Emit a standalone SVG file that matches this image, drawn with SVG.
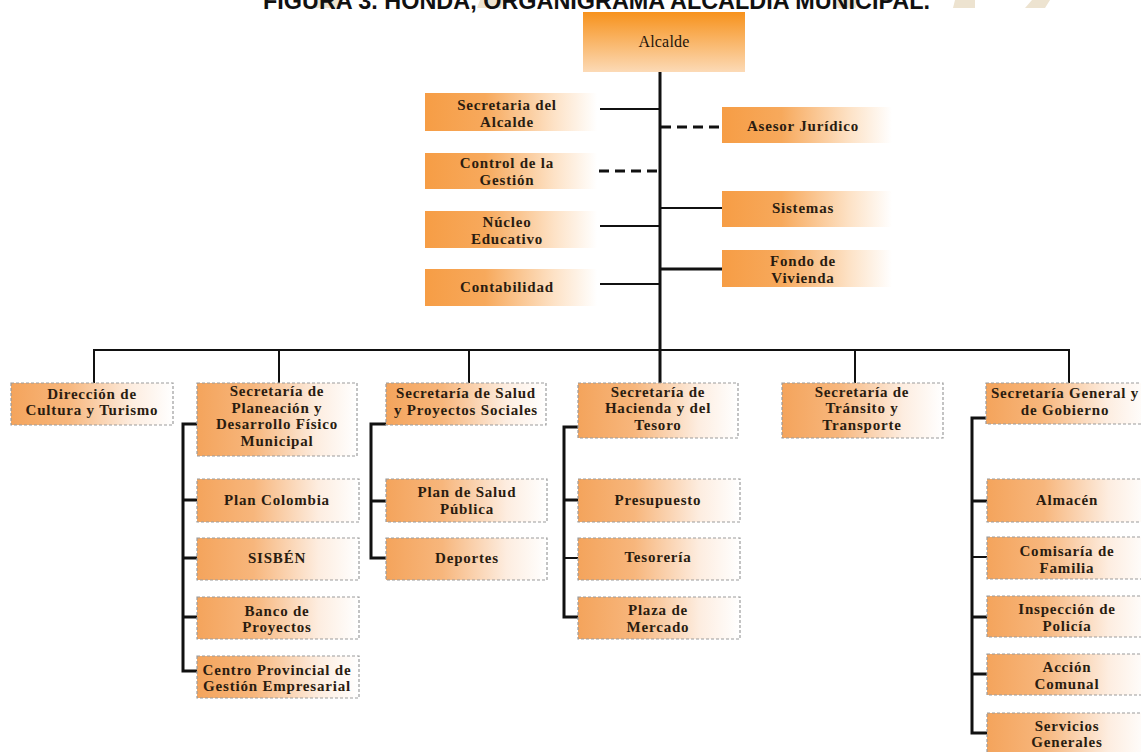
<svg xmlns="http://www.w3.org/2000/svg" width="1141" height="752" viewBox="0 0 1141 752">
<defs>
<style>
.t{font-family:"Liberation Serif","Times New Roman",serif;font-weight:bold;font-size:15px;letter-spacing:0.8px;fill:#2a1c10;text-anchor:middle}
.ttl{font-family:"Liberation Sans",Arial,sans-serif;font-weight:bold;font-size:23px;fill:#111}
.bx{stroke:#9c9c9c;stroke-width:1.2;stroke-dasharray:3 2}
.c{stroke:#111;fill:none;stroke-width:2}
.k{stroke:#111;fill:none;stroke-width:3}
.d{stroke:#111;fill:none;stroke-width:2.8;stroke-dasharray:10 6}
.wm{fill:#ede3d0}
</style>
<linearGradient id="gl" x1="0" y1="0" x2="1" y2="0">
<stop offset="0" stop-color="#f4a45c"/>
<stop offset="0.35" stop-color="#f7b67c"/>
<stop offset="0.75" stop-color="#fdede0"/>
<stop offset="1" stop-color="#ffffff"/>
</linearGradient>
<linearGradient id="gt" x1="0" y1="0" x2="1" y2="0">
<stop offset="0" stop-color="#f69d45"/>
<stop offset="0.35" stop-color="#f7a95c"/>
<stop offset="0.75" stop-color="#fde2c6"/>
<stop offset="1" stop-color="#ffffff"/>
</linearGradient>
<linearGradient id="ga" x1="0" y1="0" x2="0" y2="1">
<stop offset="0" stop-color="#f7921c"/>
<stop offset="1" stop-color="#fcdab6"/>
</linearGradient>
</defs>
<rect width="1141" height="752" fill="#ffffff"/>
<g id="watermark">
<polygon class="wm" points="318,0 343,0 340,8 315,8"/>
<polygon class="wm" points="480,0 503,0 501,8 477,8"/>
<polygon class="wm" points="837,0 857,0 856,8 835,8"/>
<polygon class="wm" points="955,0 975,0 975,8 953,8"/>
<polygon class="wm" points="1032,0 1050,0 1045,8 1025,8"/>
</g>
<text class="ttl" x="263" y="9" textLength="667" lengthAdjust="spacingAndGlyphs">FIGURA 3. HONDA, ORGANIGRAMA ALCALDÍA MUNICIPAL.</text>
<g id="connectors">
<line class="k" x1="660" y1="72" x2="660" y2="383"/>
<line class="c" x1="600" y1="109" x2="660" y2="109"/>
<line class="d" x1="661" y1="127" x2="722" y2="127"/>
<line class="d" x1="599" y1="171" x2="659" y2="171"/>
<line class="c" x1="660" y1="208" x2="722" y2="208"/>
<line class="c" x1="600" y1="226" x2="660" y2="226"/>
<line class="k" x1="660" y1="269" x2="722" y2="269"/>
<line class="c" x1="600" y1="284" x2="660" y2="284"/>
<polyline class="c" points="94,383 94,350 1069,350 1069,383"/>
<line class="c" x1="279" y1="350" x2="279" y2="383"/>
<line class="c" x1="469" y1="350" x2="469" y2="383"/>
<line class="c" x1="855" y1="350" x2="855" y2="383"/>
<polyline class="k" points="197,424 183,424 183,671 197,671"/>
<line class="k" x1="183" y1="500" x2="197" y2="500"/>
<line class="k" x1="183" y1="558" x2="197" y2="558"/>
<line class="k" x1="183" y1="617" x2="197" y2="617"/>
<polyline class="k" points="386,424 371,424 371,558 386,558"/>
<line class="k" x1="371" y1="501" x2="386" y2="501"/>
<polyline class="k" points="578,427 564,427 564,617 578,617"/>
<line class="k" x1="564" y1="500" x2="578" y2="500"/>
<line class="c" x1="564" y1="558" x2="578" y2="558"/>
<polyline class="k" points="986,418 972,418 972,733 987,733"/>
<line class="k" x1="972" y1="501" x2="987" y2="501"/>
<line class="c" x1="972" y1="557" x2="987" y2="557"/>
<line class="k" x1="972" y1="617" x2="987" y2="617"/>
<line class="k" x1="972" y1="674" x2="987" y2="674"/>
</g>
<g id="alcalde"><rect x="583" y="12" width="162" height="60" fill="url(#ga)"/><text class="t" x="664" y="47" style="font-weight:normal;font-size:16px;letter-spacing:0.2px;fill:#1e140a">Alcalde</text></g>
<g id="secretaria-alcalde"><rect x="425" y="93" width="172" height="38" fill="url(#gt)"/><text class="t" x="507" y="110">Secretaria del</text><text class="t" x="507" y="126.5">Alcalde</text></g>
<g id="asesor-juridico"><rect x="722" y="107" width="170" height="36" fill="url(#gt)"/><text class="t" x="803" y="131">Asesor Jurídico</text></g>
<g id="control-gestion"><rect x="425" y="153" width="172" height="36" fill="url(#gt)"/><text class="t" x="507" y="168">Control de la</text><text class="t" x="507" y="185">Gestión</text></g>
<g id="sistemas"><rect x="722" y="191" width="170" height="36" fill="url(#gt)"/><text class="t" x="803" y="213">Sistemas</text></g>
<g id="nucleo-educativo"><rect x="425" y="211" width="172" height="37" fill="url(#gt)"/><text class="t" x="507" y="227">Núcleo</text><text class="t" x="507" y="243.5">Educativo</text></g>
<g id="fondo-vivienda"><rect x="722" y="250" width="170" height="37" fill="url(#gt)"/><text class="t" x="803" y="266">Fondo de</text><text class="t" x="803" y="283">Vivienda</text></g>
<g id="contabilidad"><rect x="425" y="269" width="172" height="37" fill="url(#gt)"/><text class="t" x="507" y="292">Contabilidad</text></g>
<g id="direccion-cultura"><rect class="bx" x="11" y="383" width="162" height="42" fill="url(#gl)"/><text class="t" x="92" y="398.5">Dirección de</text><text class="t" x="92" y="415">Cultura y Turismo</text></g>
<g id="sec-planeacion"><rect class="bx" x="197" y="383" width="160" height="73" fill="url(#gl)"/><text class="t" x="277" y="396">Secretaría de</text><text class="t" x="277" y="412.5">Planeación y</text><text class="t" x="277" y="429">Desarrollo Físico</text><text class="t" x="277" y="445.5">Municipal</text></g>
<g id="sec-salud"><rect class="bx" x="386" y="383" width="160" height="42" fill="url(#gl)"/><text class="t" x="466" y="398">Secretaría de Salud</text><text class="t" x="466" y="414.5">y Proyectos Sociales</text></g>
<g id="sec-hacienda"><rect class="bx" x="578" y="383" width="160" height="55" fill="url(#gl)"/><text class="t" x="658" y="396.5">Secretaría de</text><text class="t" x="658" y="413">Hacienda y del</text><text class="t" x="658" y="429.5">Tesoro</text></g>
<g id="sec-transito"><rect class="bx" x="782" y="383" width="161" height="55" fill="url(#gl)"/><text class="t" x="862" y="396.5">Secretaría de</text><text class="t" x="862" y="413">Tránsito y</text><text class="t" x="862" y="429.5">Transporte</text></g>
<g id="sec-general"><rect class="bx" x="986" y="383" width="162" height="41" fill="url(#gl)"/><text class="t" x="1065" y="398">Secretaría General y</text><text class="t" x="1065" y="414.5">de Gobierno</text></g>
<g id="plan-colombia"><rect class="bx" x="197" y="479" width="162" height="43" fill="url(#gl)"/><text class="t" x="277" y="505">Plan Colombia</text></g>
<g id="sisben"><rect class="bx" x="197" y="538" width="162" height="42" fill="url(#gl)"/><text class="t" x="277" y="563">SISBÉN</text></g>
<g id="banco-proyectos"><rect class="bx" x="197" y="597" width="162" height="42" fill="url(#gl)"/><text class="t" x="277" y="615.5">Banco de</text><text class="t" x="277" y="632">Proyectos</text></g>
<g id="centro-provincial"><rect class="bx" x="197" y="656" width="162" height="42" fill="url(#gl)"/><text class="t" x="277" y="674.5">Centro Provincial de</text><text class="t" x="277" y="691">Gestión Empresarial</text></g>
<g id="plan-salud"><rect class="bx" x="386" y="479" width="161" height="43" fill="url(#gl)"/><text class="t" x="467" y="497">Plan de Salud</text><text class="t" x="467" y="514">Pública</text></g>
<g id="deportes"><rect class="bx" x="386" y="538" width="161" height="42" fill="url(#gl)"/><text class="t" x="467" y="563">Deportes</text></g>
<g id="presupuesto"><rect class="bx" x="578" y="479" width="162" height="43" fill="url(#gl)"/><text class="t" x="658" y="505">Presupuesto</text></g>
<g id="tesoreria"><rect class="bx" x="578" y="538" width="162" height="42" fill="url(#gl)"/><text class="t" x="658" y="562">Tesorería</text></g>
<g id="plaza-mercado"><rect class="bx" x="578" y="597" width="162" height="42" fill="url(#gl)"/><text class="t" x="658" y="615">Plaza de</text><text class="t" x="658" y="632">Mercado</text></g>
<g id="almacen"><rect class="bx" x="987" y="479" width="162" height="43" fill="url(#gl)"/><text class="t" x="1067" y="505">Almacén</text></g>
<g id="comisaria"><rect class="bx" x="987" y="537" width="162" height="42" fill="url(#gl)"/><text class="t" x="1067" y="556">Comisaría de</text><text class="t" x="1067" y="573">Familia</text></g>
<g id="inspeccion"><rect class="bx" x="987" y="596" width="162" height="41" fill="url(#gl)"/><text class="t" x="1067" y="614">Inspección de</text><text class="t" x="1067" y="631">Policía</text></g>
<g id="accion-comunal"><rect class="bx" x="987" y="654" width="162" height="41" fill="url(#gl)"/><text class="t" x="1067" y="672">Acción</text><text class="t" x="1067" y="689">Comunal</text></g>
<g id="servicios-generales"><rect class="bx" x="987" y="713" width="162" height="45" fill="url(#gl)"/><text class="t" x="1067" y="731">Servicios</text><text class="t" x="1067" y="747">Generales</text></g>
</svg>
